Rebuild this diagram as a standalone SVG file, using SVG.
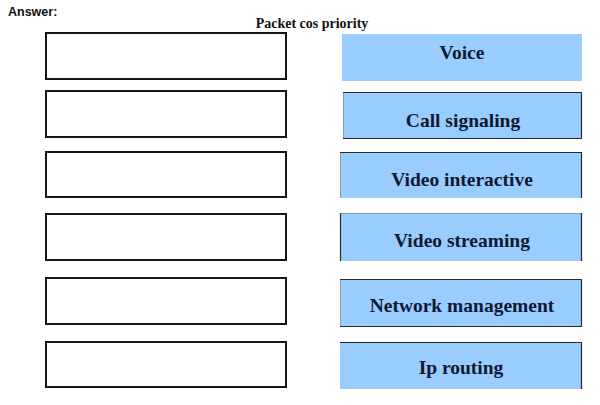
<svg xmlns="http://www.w3.org/2000/svg" width="600" height="405" viewBox="0 0 600 405">
<style>
.slot{fill:#fff;stroke:#151515;stroke-width:2}
.cat{fill:#99CCFF;stroke:none}
.edge{fill:none;stroke:#2a2a2a;stroke-width:1.2}
.faint{fill:none;stroke:#8a9ab0;stroke-width:1}
.lbl{font-family:"Liberation Serif","Times New Roman",serif;font-weight:bold;font-size:19.5px;fill:#101830;text-anchor:middle}
</style>
<rect width="600" height="405" fill="#fff"/>
<text x="8" y="16" font-family="Liberation Sans,Arial,sans-serif" font-weight="bold" font-size="12.5" fill="#111">Answer:</text>
<text x="312" y="28" font-family="Liberation Serif,Times New Roman,serif" font-weight="bold" font-size="14" fill="#111" text-anchor="middle">Packet cos priority</text>
<g id="slots">
<g id="slot1"><rect class="slot" x="46" y="33" width="240" height="46"/></g>
<g id="slot2"><rect class="slot" x="46" y="91" width="240" height="46"/></g>
<g id="slot3"><rect class="slot" x="46" y="152" width="240" height="45"/></g>
<g id="slot4"><rect class="slot" x="46" y="214" width="240" height="46"/></g>
<g id="slot5"><rect class="slot" x="46" y="278" width="240" height="46"/></g>
<g id="slot6"><rect class="slot" x="46" y="342" width="240" height="45"/></g>
</g>
<g id="categories">
<g id="voice"><rect class="cat" x="342" y="34" width="240" height="47"/><text class="lbl" x="462" y="59">Voice</text></g>
<g id="call-signaling"><rect class="cat" x="343" y="92" width="239" height="47"/><path class="faint" d="M343.5 92V139"/><path class="edge" d="M343 92.5H581.5V138.5H343"/><text class="lbl" x="463" y="127">Call signaling</text></g>
<g id="video-interactive"><rect class="cat" x="340" y="152" width="242" height="46"/><path class="faint" d="M340.5 152V198"/><path class="edge" d="M340 152.5H581.5V198"/><text class="lbl" x="462" y="186">Video interactive</text></g>
<g id="video-streaming"><rect class="cat" x="340" y="213" width="242" height="48"/><path class="faint" d="M340 213.5H581"/><path class="edge" d="M340.5 213V261M581.5 213V261"/><text class="lbl" x="462" y="247">Video streaming</text></g>
<g id="network-management"><rect class="cat" x="340" y="279" width="242" height="48"/><path class="faint" d="M340.5 279V327"/><path class="edge" d="M340 279.5H581.5V326.5H340"/><text class="lbl" x="462" y="312">Network management</text></g>
<g id="ip-routing"><rect class="cat" x="340" y="342" width="242" height="47"/><path class="edge" d="M340 342.5H581.5V389"/><text class="lbl" x="461" y="374">Ip routing</text></g>
</g>
</svg>
